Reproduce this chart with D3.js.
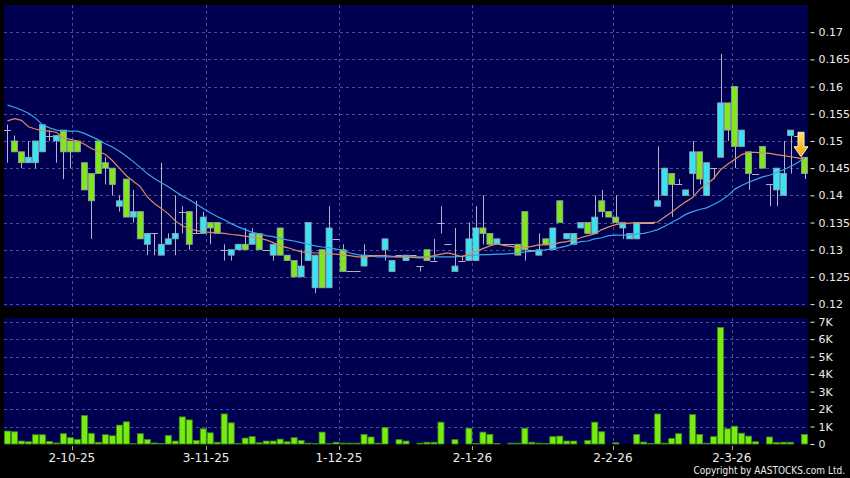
<!DOCTYPE html>
<html>
<head>
<meta charset="utf-8">
<script src="https://cdn.jsdelivr.net/npm/d3@7/dist/d3.min.js"></script>
<style>
  html, body { margin: 0; padding: 0; background: #000; }
  svg { display: block; }
  text { font-family: 'DejaVu Sans', sans-serif; }
</style>
</head>
<body>
<script>
// daily candles, oldest first
const opens = [
  .152, .150, .148, .146, .146, .148, .151, .150, .152, .150,
  .150, .146, .144, .150, .146, .145, .138, .143, .136, .137,
  .131, .133, .129, .131, .132, .137, .137, .133, .133, .135,
  .135, .130, .129, .130, .131, .131, .133, .130, .129, .134,
  .129, .128, .125, .128, .123, .130, .123, .132, .130, .126,
  .126, .127, .129, .129, .130, .126, .129, .128, .129, .127,
  .130, .128, .135, .131, .126, .128, .128, .128, .134, .133,
  .131, .131, .131, .131, .137, .130, .129, .132, .130, .139,
  .132, .131, .134, .135, .133, .139, .137, .136, .134, .132,
  .132, .135, .135, .138, .140, .144, .142, .140, .144, .148,
  .140, .145, .147, .157, .160, .149, .148, .144, .149, .142,
  .141, .140, .151, .151, .147,
]
const highs = [
  .153, .151, .148, .150, .150, .153, .152, .151, .152, .150,
  .150, .146, .144, .150, .147, .145, .140, .143, .141, .137,
  .133, .133, .146, .133, .140, .138, .137, .139, .137, .135,
  .135, .131, .130, .131, .134, .134, .133, .130, .131, .134,
  .129, .128, .130, .135, .129, .130, .138, .132, .131, .126,
  .126, .131, .129, .129, .132, .128, .129, .129, .129, .127,
  .130, .132, .138, .131, .134, .129, .135, .138, .140, .133,
  .132, .131, .131, .131, .137, .130, .133, .132, .134, .139,
  .133, .133, .135, .135, .140, .141, .137, .140, .135, .133,
  .135, .135, .135, .149, .145, .144, .143, .141, .150, .148,
  .146, .145, .166, .157, .160, .152, .148, .144, .149, .142,
  .145, .150, .152, .151, .147,
]
const lows = [
  .146, .148, .145, .146, .145, .148, .150, .146, .143, .145,
  .148, .141, .132, .144, .142, .140, .137, .136, .135, .132,
  .129, .129, .129, .131, .129, .133, .130, .133, .133, .131,
  .133, .128, .128, .130, .130, .131, .130, .130, .128, .129,
  .128, .125, .125, .128, .122, .123, .123, .132, .126, .126,
  .126, .127, .129, .129, .128, .126, .129, .128, .129, .126,
  .128, .128, .133, .131, .126, .128, .128, .128, .131, .131,
  .131, .131, .131, .129, .128, .130, .129, .131, .130, .135,
  .132, .131, .134, .133, .133, .136, .136, .135, .132, .132,
  .132, .135, .135, .138, .140, .136, .142, .140, .140, .142,
  .140, .143, .147, .150, .145, .149, .141, .144, .145, .138,
  .138, .140, .144, .151, .143,
]
const closes = [
  .152, .148, .146, .147, .150, .153, .151, .151, .148, .148,
  .148, .141, .139, .144, .145, .142, .139, .136, .137, .132,
  .133, .133, .131, .132, .133, .137, .131, .133, .136, .134,
  .133, .130, .130, .131, .130, .133, .130, .130, .131, .129,
  .128, .125, .127, .135, .129, .123, .134, .132, .126, .126,
  .126, .129, .129, .129, .132, .128, .129, .129, .129, .127,
  .128, .128, .135, .131, .127, .128, .132, .134, .133, .131,
  .132, .131, .131, .129, .130, .130, .130, .131, .134, .135,
  .133, .133, .135, .133, .136, .137, .136, .135, .135, .133,
  .135, .135, .135, .139, .145, .142, .142, .141, .148, .143,
  .146, .145, .157, .152, .149, .152, .144, .144, .145, .142,
  .145, .144, .152, .151, .144,
]
// volume in thousands of shares
const volumes = [
  .74, .70, .17, .13, .53, .53, .15, .06, .59, .36,
  .26, 1.63, .61, .10, .53, .47, 1.08, 1.27, .02, .59,
  .26, .06, .03, .49, .17, 1.55, 1.38, .20, .87, .64,
  .10, 1.72, 1.21, .02, .34, .42, .07, .17, .17, .28,
  .13, .36, .20, .05, .02, .68, .02, .10, .05, .05,
  .05, .55, .40, .05, .95, 0, .25, .17, 0, .05,
  .10, .10, 1.25, 0, .25, 0, .90, .03, .68, .55,
  .03, 0, .05, .05, .90, .10, .05, .03, .42, .45,
  .17, .17, 0, .20, 1.25, .70, 0, .07, 0, 0,
  .55, .11, .03, 1.72, .05, .32, .59, 0, 1.68, .55,
  .05, .42, 6.67, .87, 1.02, .62, .45, .13, 0, .40,
  .08, .10, .10, 0, .55,
]
const maShort = [
  .1537, .1541, .1538, .1526, .1522, .1519, .1518, .1516, .1506, .1503,
  .1500, .1494, .1486, .1481, .1475, .1464, .1450, .1436, .1426, .1416,
  .1397, .1385, .1376, .1366, .1353, .1344, .1339, .1335, .1333, .1332,
  .1331, .1330, .1328, .1327, .1325, .1323, .1321, .1318, .1313, .1307,
  .1304, .1300, .1296, .1295, .1294, .1294, .1292, .1292, .1290, .1289,
  .1287, .1287, .1288, .1289, .1289, .1288, .1287, .1287, .1286, .1285,
  .1286, .1289, .1292, .1294, .1291, .1287, .1292, .1297, .1302, .1307,
  .1311, .1308, .1306, .1304, .1304, .1306, .1309, .1309, .1310, .1313,
  .1315, .1318, .1322, .1326, .1329, .1337, .1342, .1346, .1348, .1349,
  .1350, .1350, .1350, .1351, .1360, .1369, .1379, .1388, .1396, .1411,
  .1420, .1431, .1447, .1457, .1466, .1475, .1479, .1479, .1478, .1477,
  .1475, .1473, .1471, .1469, .1466,
]
const maLong = [
  .1566, .1562, .1557, .1551, .1542, .1530, .1524, .1520, .1518, .1518,
  .1518, .1514, .1508, .1502, .1495, .1489, .1481, .1472, .1462, .1451,
  .1440, .1431, .1423, .1416, .1407, .1399, .1392, .1384, .1376, .1368,
  .1361, .1355, .1348, .1342, .1337, .1332, .1329, .1326, .1324, .1321,
  .1318, .1316, .1313, .1310, .1307, .1305, .1304, .1301, .1299, .1294,
  .1291, .1289, .1288, .1287, .1287, .1287, .1287, .1287, .1287, .1287,
  .1287, .1287, .1287, .1287, .1287, .1288, .1289, .1290, .1291, .1291,
  .1292, .1292, .1293, .1294, .1296, .1297, .1298, .1300, .1302, .1304,
  .1307, .1311, .1315, .1316, .1320, .1322, .1326, .1327, .1327, .1327,
  .1329, .1330, .1333, .1337, .1343, .1350, .1357, .1365, .1370, .1374,
  .1377, .1383, .1390, .1399, .1411, .1418, .1424, .1429, .1434, .1437,
  .1442, .1447, .1453, .1460, .1469,
]
// month labels sit between candles, so they carry a fractional index
const dateTicks = [
  { at: 9.2, label: '2-10-25' },
  { at: 28.4, label: '3-11-25' },
  { at: 47.4, label: '1-12-25' },
  { at: 66.5, label: '2-1-26' },
  { at: 86.6, label: '2-2-26' },
  { at: 103.6, label: '2-3-26' },
]
const priceTicks = [0.12, 0.125, 0.13, 0.135, 0.14, 0.145, 0.15, 0.155, 0.16, 0.165, 0.17]
const volumeTicks = [0, 1, 2, 3, 4, 5, 6, 7]
const lastMark = { at: 113.5, top: 0.1516, tip: 0.1471 }

const W = 850
const H = 478
const PANEL = { left: 4, right: 808 }
const PRICE = { top: 5, bottom: 307 }
const VOL = { top: 318, bottom: 444 }

const COLORS = {
  panel: '#000050',
  grid: '#4d4d94',
  up: '#38e4f0',
  down: '#7ee81c',
  edge: '#9aa0b0',
  wick: '#b4b4c4',
  vol: '#76ec10',
  volEdge: '#3f8a14',
  maShort: '#dc8d5c',
  maLong: '#3ea4ea',
  text: '#ececec',
}

const candles = closes.map((c, i) => ({
  i, o: opens[i], h: highs[i], l: lows[i], c, v: volumes[i],
}))

const svg = d3.select('body').append('svg')
  .attr('width', W)
  .attr('height', H)

svg.append('rect')
  .attr('width', W).attr('height', H)
  .attr('fill', '#000')

const x = d3.scaleBand()
  .domain(candles.map(d => d.i))
  .range([PANEL.left, PANEL.right])
  .paddingInner(0.14)
  .paddingOuter(0.07)

const bw = x.bandwidth()
const cx = i => x(i) + bw / 2
const xAt = d3.scaleLinear()
  .domain([0, candles.length - 1])
  .range([cx(0), cx(candles.length - 1)])

const y = d3.scaleLinear().domain([0.12, 0.17]).range([304.1, 32.2])
const yv = d3.scaleLinear().domain([0, 7]).range([VOL.bottom, 321.7])

// panels
;[PRICE, VOL].forEach(p =>
  svg.append('rect')
    .attr('x', PANEL.left).attr('y', p.top)
    .attr('width', PANEL.right - PANEL.left)
    .attr('height', p.bottom - p.top)
    .attr('fill', COLORS.panel)
)

const grid = svg.append('g')
  .attr('stroke', COLORS.grid)
  .attr('stroke-width', 1)
  .attr('stroke-dasharray', '3,3')
  .attr('shape-rendering', 'crispEdges')

grid.selectAll('.hp').data(priceTicks).join('line')
  .attr('x1', PANEL.left).attr('x2', PANEL.right)
  .attr('y1', d => Math.round(y(d)) + 0.5).attr('y2', d => Math.round(y(d)) + 0.5)

grid.selectAll('.hv').data(volumeTicks.slice(1)).join('line')
  .attr('x1', PANEL.left).attr('x2', PANEL.right)
  .attr('y1', d => Math.round(yv(d)) + 0.5).attr('y2', d => Math.round(yv(d)) + 0.5)

;[PRICE, VOL].forEach(p =>
  grid.append('g').selectAll('line').data(dateTicks).join('line')
    .attr('x1', d => Math.round(xAt(d.at)) + 0.5).attr('x2', d => Math.round(xAt(d.at)) + 0.5)
    .attr('y1', p.top).attr('y2', p.bottom)
)

// candles
const plot = svg.append('g')

const wicks = candles.filter(d => d.h > d.l)
plot.append('g').selectAll('line').data(wicks).join('line')
  .attr('x1', d => Math.round(cx(d.i)) + 0.5).attr('x2', d => Math.round(cx(d.i)) + 0.5)
  .attr('y1', d => y(d.h)).attr('y2', d => y(d.l))
  .attr('stroke', COLORS.wick)
  .attr('stroke-width', 1)

const flats = candles.filter(d => d.o === d.c)
plot.append('g').selectAll('line').data(flats).join('line')
  .attr('x1', d => x(d.i) - 0.5).attr('x2', d => x(d.i) + bw + 0.5)
  .attr('y1', d => Math.round(y(d.c)) + 0.5).attr('y2', d => Math.round(y(d.c)) + 0.5)
  .attr('stroke', COLORS.wick)
  .attr('stroke-width', 1)

const bodies = candles.filter(d => d.o !== d.c)
plot.append('g').selectAll('rect').data(bodies).join('rect')
  .attr('x', d => x(d.i))
  .attr('width', bw)
  .attr('y', d => y(Math.max(d.o, d.c)))
  .attr('height', d => Math.abs(y(d.o) - y(d.c)))
  .attr('fill', d => d.c > d.o ? COLORS.up : COLORS.down)
  .attr('stroke', COLORS.edge)
  .attr('stroke-width', 0.8)

// moving averages
const maLine = d3.line()
  .x((d, i) => cx(i))
  .y(d => y(d))

svg.append('path')
  .attr('d', maLine(maLong))
  .attr('fill', 'none')
  .attr('stroke', COLORS.maLong)
  .attr('stroke-width', 1.2)

svg.append('path')
  .attr('d', maLine(maShort))
  .attr('fill', 'none')
  .attr('stroke', COLORS.maShort)
  .attr('stroke-width', 1.2)

// volume bars
svg.append('g').selectAll('rect').data(candles.filter(d => d.v > 0)).join('rect')
  .attr('x', d => x(d.i))
  .attr('width', bw)
  .attr('y', d => yv(d.v))
  .attr('height', d => VOL.bottom - yv(d.v))
  .attr('fill', COLORS.vol)
  .attr('stroke', COLORS.volEdge)
  .attr('stroke-width', 0.8)

// marker arrow on the last session
const defs = svg.append('defs')
const grad = defs.append('linearGradient')
  .attr('id', 'arrowFill')
  .attr('x1', 0).attr('x2', 0).attr('y1', 0).attr('y2', 1)
grad.append('stop').attr('offset', '0%').attr('stop-color', '#ffe36a')
grad.append('stop').attr('offset', '100%').attr('stop-color', '#f2a10c')

const ax = xAt(lastMark.at)
const aTop = y(lastMark.top)
const aTip = y(lastMark.tip)
const aNeck = aTip - 10
svg.append('path')
  .attr('d', `M${ax - 3},${aTop} L${ax + 3},${aTop} L${ax + 3},${aNeck} L${ax + 7},${aNeck}
    L${ax},${aTip} L${ax - 7},${aNeck} L${ax - 3},${aNeck} Z`)
  .attr('fill', 'url(#arrowFill)')
  .attr('stroke', '#fff3b8')
  .attr('stroke-width', 1)

// right axes
const styleAxis = g => {
  g.select('.domain').remove()
  g.selectAll('.tick line').attr('stroke', COLORS.text)
  g.selectAll('.tick text')
    .attr('fill', COLORS.text)
    .style('font-size', '11px')
}

svg.append('g')
  .attr('transform', `translate(${PANEL.right + 2.5},0)`)
  .call(d3.axisRight(y)
    .tickValues(priceTicks)
    .tickSize(4)
    .tickPadding(4)
    .tickFormat(d => String(+d.toFixed(3))))
  .call(styleAxis)

svg.append('g')
  .attr('transform', `translate(${PANEL.right + 2.5},0)`)
  .call(d3.axisRight(yv)
    .tickValues(volumeTicks)
    .tickSize(4)
    .tickPadding(4)
    .tickFormat(d => d === 0 ? '0' : `${d}K`))
  .call(styleAxis)

// date axis
const dates = svg.append('g')
dates.selectAll('line').data(dateTicks).join('line')
  .attr('x1', d => Math.round(xAt(d.at)) + 0.5).attr('x2', d => Math.round(xAt(d.at)) + 0.5)
  .attr('y1', VOL.bottom + 2).attr('y2', VOL.bottom + 6)
  .attr('stroke', '#aaa')
dates.selectAll('text').data(dateTicks).join('text')
  .attr('x', d => xAt(d.at))
  .attr('y', 462)
  .attr('text-anchor', 'middle')
  .attr('fill', COLORS.text)
  .style('font-size', '12px')
  .text(d => d.label)

svg.append('text')
  .attr('x', 845)
  .attr('y', 474)
  .attr('text-anchor', 'end')
  .attr('fill', COLORS.text)
  .style('font-family', "'DejaVu Sans Condensed', 'Liberation Sans Narrow', sans-serif")
  .style('font-size', '10px')
  .text('Copyright by AASTOCKS.com Ltd.')
</script>
</body>
</html>
